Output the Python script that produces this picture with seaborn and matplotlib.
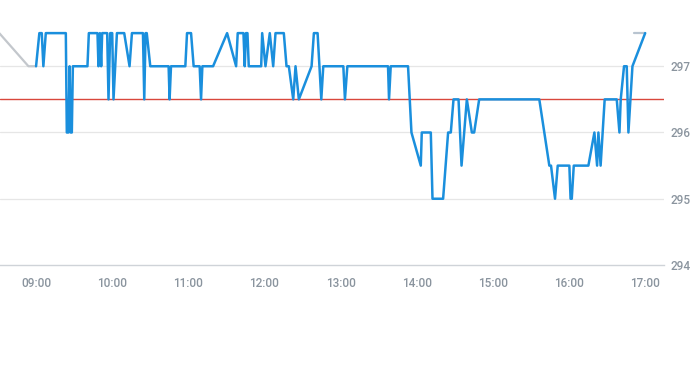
import pandas as pd
import matplotlib
matplotlib.use("Agg")
import matplotlib.pyplot as plt
import matplotlib.dates as mdates
import seaborn as sns

sns.set_theme(style="white")
plt.rcParams['font.family'] = ['Roboto', 'DejaVu Sans']

day = "2024-01-02 "

# intraday trades (blue)
trade_times = [
    "09:00:00", "09:02:36", "09:04:30", "09:05:45", "09:07:40", "09:23:27", "09:24:14", "09:25:30",
    "09:26:27", "09:27:14", "09:28:11", "09:29:00", "09:40:30", "09:41:36", "09:48:24", "09:49:11",
    "09:50:18", "09:51:19", "09:52:06", "09:56:03", "09:57:05", "09:58:25", "10:00:00", "10:01:02",
    "10:03:43", "10:09:28", "10:13:40", "10:15:33", "10:24:14", "10:25:16", "10:26:17", "10:27:14",
    "10:30:00", "10:44:27", "10:45:14", "10:46:20", "10:57:38", "10:58:58", "11:02:08", "11:04:11",
    "11:08:55", "11:10:01", "11:11:03", "11:19:30", "11:30:33", "11:37:39", "11:38:55", "11:43:26",
    "11:44:27", "11:45:24", "11:46:35", "11:47:37", "11:57:24", "11:58:11", "12:00:48", "12:04:11",
    "12:06:52", "12:08:41", "12:15:14", "12:17:22", "12:19:11", "12:22:39", "12:24:28", "12:27:05",
    "12:37:07", "12:38:56", "12:41:51", "12:44:46", "12:46:20", "13:02:08", "13:03:24", "13:05:18",
    "13:37:21", "13:38:09", "13:39:29", "13:53:08", "13:55:49", "14:03:10", "14:03:57", "14:11:04",
    "14:12:24", "14:20:46", "14:24:43", "14:26:50", "14:28:58", "14:32:55", "14:35:17", "14:39:28",
    "14:43:25", "14:45:14", "14:49:11", "15:36:34", "15:40:31", "15:44:28", "15:45:48", "15:48:57",
    "15:51:05", "16:00:15", "16:01:12", "16:02:09", "16:03:44", "16:15:15", "16:19:59", "16:22:07",
    "16:23:08", "16:24:53", "16:28:05", "16:37:36", "16:39:44", "16:40:44", "16:43:20", "16:45:28",
    "16:46:48", "16:49:58", "17:00:00",
]
trade_prices = [
    297.0, 297.5, 297.5, 297.0, 297.5, 297.5, 296.0, 296.0,
    297.0, 296.0, 296.0, 297.0, 297.0, 297.5, 297.5, 297.0,
    297.5, 297.0, 297.5, 297.5, 296.5, 297.5, 297.5, 296.5,
    297.5, 297.5, 297.0, 297.5, 297.5, 296.5, 297.5, 297.5,
    297.0, 297.0, 296.5, 297.0, 297.0, 297.5, 297.5, 297.0,
    297.0, 296.5, 297.0, 297.0, 297.5, 297.0, 297.5, 297.5,
    297.0, 297.5, 297.5, 297.0, 297.0, 297.5, 297.0, 297.5,
    297.0, 297.5, 297.5, 297.0, 297.0, 296.5, 297.0, 296.5,
    297.0, 297.5, 297.5, 296.5, 297.0, 297.0, 296.5, 297.0,
    297.0, 296.5, 297.0, 297.0, 296.0, 295.5, 296.0, 296.0,
    295.0, 295.0, 296.0, 296.0, 296.5, 296.5, 295.5, 296.5,
    296.0, 296.0, 296.5, 296.5, 296.0, 295.5, 295.5, 295.0,
    295.5, 295.5, 295.0, 295.0, 295.5, 295.5, 296.0, 295.5,
    296.0, 295.5, 296.5, 296.5, 296.0, 296.5, 297.0, 297.0,
    296.0, 297.0, 297.5,
]

# out-of-session quotes (grey)
pre_times = ["08:31:00", "08:54:00", "09:00:00"]
pre_prices = [297.5, 297.0, 297.0]
post_times = ["16:51:06", "17:00:00"]
post_prices = [297.5, 297.5]

ref_price = 296.5
y_ticks = [294, 295, 296, 297]
x_ticks = ["09:00", "10:00", "11:00", "12:00", "13:00", "14:00", "15:00", "16:00", "17:00"]

trades = pd.DataFrame({"time": pd.to_datetime([day + t for t in trade_times]), "price": trade_prices})
pre = pd.DataFrame({"time": pd.to_datetime([day + t for t in pre_times]), "price": pre_prices})
post = pd.DataFrame({"time": pd.to_datetime([day + t for t in post_times]), "price": post_prices})

fig = plt.figure(figsize=(6.93, 3.65), dpi=100)
ax = fig.add_axes([0, 0.274, 664 / 693, 0.726])

grid_c = "#e6e6e6"
for v in y_ticks[1:]:
    ax.axhline(v, color=grid_c, lw=0.9, zorder=0)
ax.axhline(ref_price, color="#d9473c", lw=1.0, zorder=1)

sns.lineplot(data=pre, x="time", y="price", ax=ax, color="#c3c7cc", lw=1.6, zorder=2)
sns.lineplot(data=post, x="time", y="price", ax=ax, color="#b8c4d0", lw=1.6, zorder=2)
sns.lineplot(data=trades, x="time", y="price", ax=ax, color="#1a8fdd", lw=1.8, zorder=3)

ax.set_xlim(pd.Timestamp(day + "08:31:35"), pd.Timestamp(day + "17:14:50"))
ax.set_ylim(294, 298)
ax.set_xticks(pd.to_datetime([day + t for t in x_ticks]))
ax.xaxis.set_major_formatter(mdates.DateFormatter("%H:%M"))
ax.set_yticks(y_ticks)
ax.yaxis.tick_right()

for s in ["top", "left", "right"]:
    ax.spines[s].set_visible(False)
ax.spines["bottom"].set_color("#cfd3d8")
ax.spines["bottom"].set_linewidth(1.0)

ax.tick_params(axis="x", length=4, width=0.9, color="#cfd3d8", pad=5,
               labelsize=8.5, labelcolor="#8a949e")
ax.tick_params(axis="y", length=0, pad=5, labelsize=8.5, labelcolor="#8a949e")
for lab in ax.get_xticklabels() + ax.get_yticklabels():
    lab.set_fontweight("medium")

ax.set_xlabel("")
ax.set_ylabel("")
ax.grid(False)
ax.set_facecolor("white")

fig.savefig("out.png", dpi=100)
